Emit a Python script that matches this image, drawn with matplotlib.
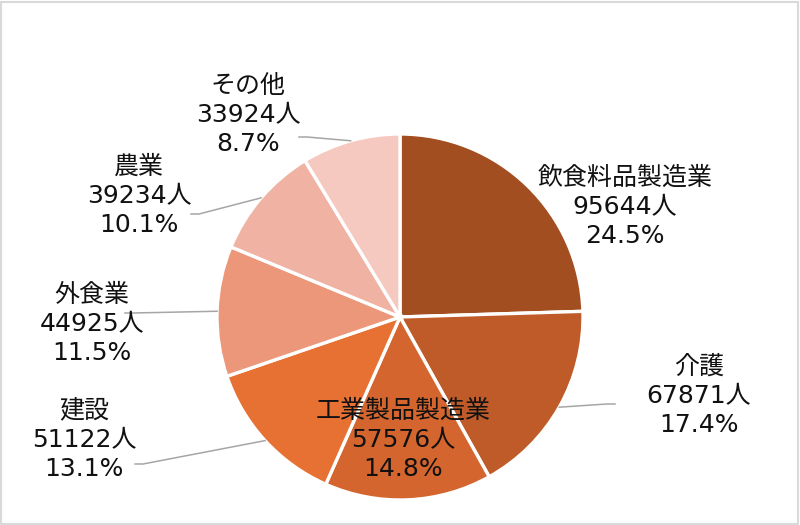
import matplotlib
matplotlib.use("Agg")
import matplotlib.pyplot as plt
import numpy as np
from matplotlib.patches import Rectangle

# DejaVu first so digits come out wide (Meiryo-like); CJK falls through to Noto
plt.rcParams['font.family'] = ['DejaVu Sans', 'Noto Sans CJK JP']

categories = ["飲食料品製造業", "介護", "工業製品製造業", "建設", "外食業", "農業", "その他"]
people = [95644, 67871, 57576, 51122, 44925, 39234, 33924]
shares = [24.5, 17.4, 14.8, 13.1, 11.5, 10.1, 8.7]
colors = ["#A34E21", "#BF5B29", "#D4652E", "#E77133", "#EC967A", "#F0B3A3", "#F5C9BF"]

# label block centres in pixels (x, y from top), and leader anchors (None = no line)
label_pos = [(625, 207), (699, 396), (403, 440), (84, 440), (92, 324), (139, 196), (248, 115)]
leader_from = [None, (615, 404), None, (135, 464), (125, 313), (191, 214), (299, 137)]

W, H = 800, 525
cx, cy, r = 400, H - 317, 183

fig = plt.figure(figsize=(8, 5.25), dpi=100)
ax = fig.add_axes([0, 0, 1, 1])

wedges, _ = ax.pie(people, colors=colors, startangle=90, counterclock=False,
                   center=(cx, cy), radius=r,
                   wedgeprops=dict(edgecolor="white", linewidth=2.4))
ax.set_xlim(0, W)
ax.set_ylim(0, H)
ax.set_aspect("equal")
ax.axis("off")

for w, cat, n, pct, (lx, ly), src in zip(wedges, categories, people, shares, label_pos, leader_from):
    if src is not None:
        mid = np.deg2rad((w.theta1 + w.theta2) / 2)
        ex, ey = cx + r * np.cos(mid), cy + r * np.sin(mid)
        sx, sy = src[0], H - src[1]
        step = 8 if ex > sx else -8
        ax.plot([sx, sx + step, ex], [sy, sy, ey], color="#A6A6A6", lw=1.1, zorder=1)
    ax.text(lx, H - ly, f"{cat}\n{n}人\n{pct}%", ha="center", va="center",
            fontsize=18, linespacing=1.28, color="#111111", zorder=5)

fig.patches.append(Rectangle((0.001, 0.002), 0.997, 0.995, transform=fig.transFigure,
                             fill=False, edgecolor="#D9D9D9", linewidth=1.5))

fig.savefig("out.png", dpi=100)
